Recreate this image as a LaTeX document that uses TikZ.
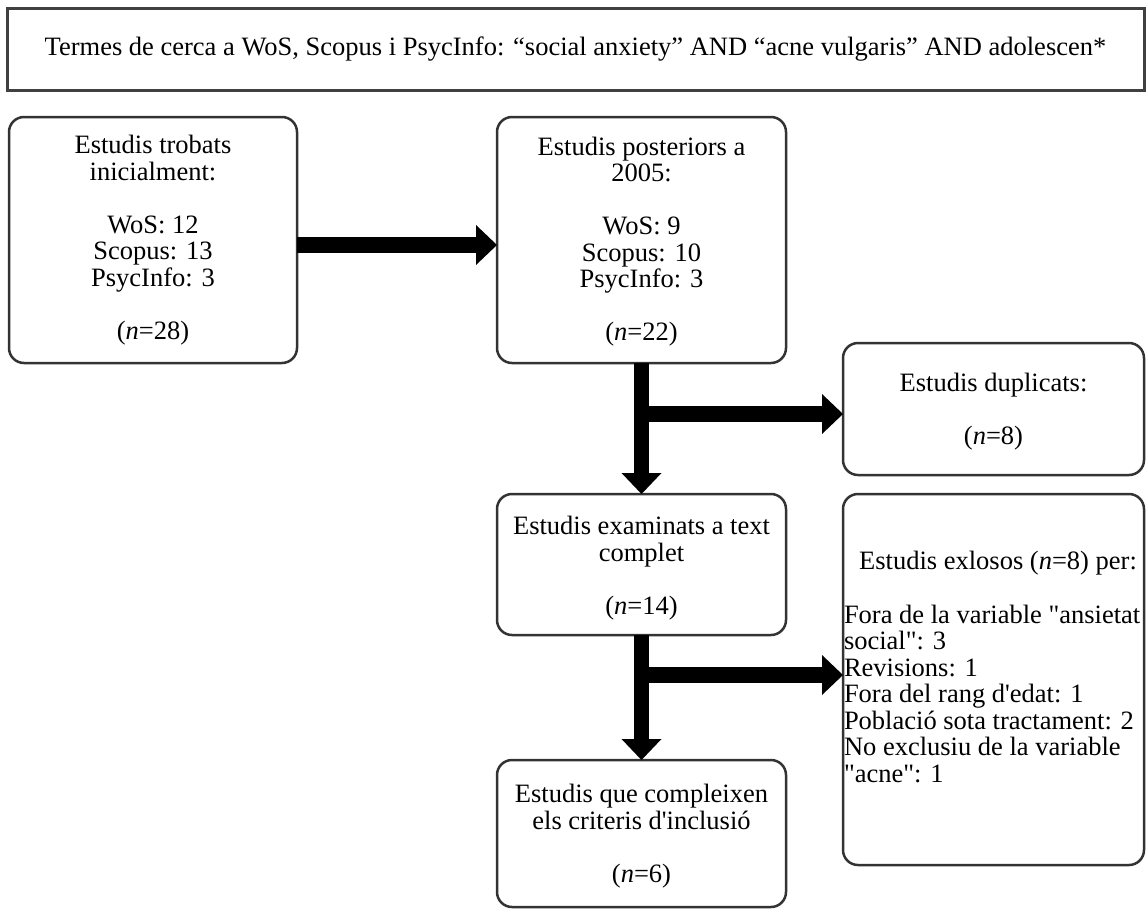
\documentclass[tikz,border=0pt]{standalone}
\usepackage{fontspec}
\newfontfamily\lib{Liberation Serif}
\usetikzlibrary{arrows.meta}
\begin{document}
\begin{tikzpicture}[x=1pt,y=-1pt,
  box/.style={draw=black!80, line width=2.5pt, rounded corners=15pt, inner sep=0pt, outer sep=0pt,
    align=center, font=\lib\fontsize{26.5}{26.5}\selectfont},
  topbox/.style={draw=black!75, line width=3pt, inner sep=0pt, outer sep=0pt,
    font=\lib\fontsize{26.5}{26.5}\selectfont},
  txt/.style={inner sep=0pt, outer sep=0pt, align=left, font=\lib\fontsize{26.5}{26.5}\selectfont},
  arr/.style={line width=15.5pt, -{Triangle[width=40pt,length=21pt,line width=0pt]}},
]
\useasboundingbox (0,0) rectangle (1146,908);

\node[topbox, minimum width=1137pt, minimum height=82pt] (top) at (575.5,49)
  {Termes de cerca a WoS, Scopus i PsycInfo: “social anxiety” AND “acne vulgaris” AND adolescen*};

\node[box, minimum width=288pt, minimum height=246pt] (b1) at (153,240)
  {Estudis trobats\\inicialment:\\[26.5pt]WoS: 12\\Scopus: 13\\PsycInfo: 3\\[26.5pt](\textit{n}=28)};
\node[box, minimum width=289pt, minimum height=246pt] (b2) at (641.5,240)
  {\rule{0pt}{22pt}Estudis posteriors a\\2005:\\[26.5pt]WoS: 9\\Scopus: 10\\PsycInfo: 3\\[26.5pt](\textit{n}=22)};
\node[box, minimum width=301pt, minimum height=132pt] (b3) at (993.5,409)
  {\rule{0pt}{24pt}Estudis duplicats:\\[26.5pt](\textit{n}=8)};
\node[box, minimum width=289pt, minimum height=141pt] (b4) at (641.5,564.5)
  {\rule{0pt}{26pt}Estudis examinats a text\\complet\\[26.5pt](\textit{n}=14)};
\node[box, minimum width=301pt, minimum height=371pt] (b5) at (993.5,679.5) {};
\node[box, minimum width=289pt, minimum height=147pt] (b6) at (641.5,833.5)
  {\rule{0pt}{24pt}Estudis que compleixen\\els criteris d'inclusió\\[26.5pt](\textit{n}=6)};

\node[txt] (h5) at (998,563) {Estudis exlosos (\textit{n}=8) per:};
\node[txt, anchor=north west] (l5) at (844,605)
  {Fora de la variable "ansietat\\social": 3\\Revisions: 1\\Fora del rang d'edat: 1\\Població sota tractament: 2\\No exclusiu de la variable\\"acne": 1};

\draw[arr] ([yshift=-5pt]b1.east) -- ([yshift=-5pt]b2.west);
\draw[arr] (b2.south) -- (b4.north);
\coordinate (j1) at (641.5,414);
\draw[arr] (j1) -- (j1 -| b3.west);
\draw[arr] (b4.south) -- (b6.north);
\coordinate (j2) at (641.5,675);
\draw[arr] (j2) -- (j2 -| b5.west);
\end{tikzpicture}
\end{document}
